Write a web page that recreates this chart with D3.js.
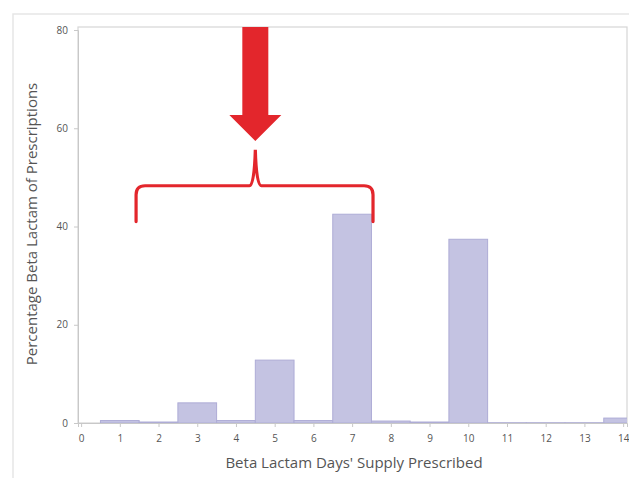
<!DOCTYPE html>
<html><head><meta charset="utf-8">
<script src="https://cdn.jsdelivr.net/npm/d3@7"></script>
<style>body{margin:0;background:#fff}svg{display:block}</style>
</head><body><svg id="c" width="629" height="478"></svg>
<script>
const days = [1,2,3,4,5,6,7,8,9,10,11,12,13,14];
const percents = [0.5,0.2,4.1,0.5,12.8,0.5,42.5,0.4,0.2,37.4,0.05,0.05,0.05,1.0];
const xTicks = [0,1,2,3,4,5,6,7,8,9,10,11,12,13,14];
const yTicks = [0,20,40,60,80];
const braceRange = [1.42, 7.54];
const arrowAt = 4.5;

const svg = d3.select("#c");
const W=629,H=478;
const L=78,R=627,T=27,B=423;
const x = d3.scaleLinear().domain([-0.08,14.1]).range([L,R]);
const y = d3.scaleLinear().domain([0,80]).range([B,30]);
const font = "'Open Sans', 'DejaVu Sans', sans-serif";

// outer frame
svg.append("path").attr("d",`M13,${H} V14 H${W}`).attr("fill","none").attr("stroke","#e6e6e6").attr("stroke-width",1.5);

svg.append("defs").append("clipPath").attr("id","pc").append("rect")
  .attr("x",L).attr("y",T).attr("width",R-L).attr("height",B-T+1);

// plot frame
svg.append("rect").attr("x",L).attr("y",T).attr("width",R-L).attr("height",B-T)
  .attr("fill","#fff").attr("stroke","#d6d6d6").attr("stroke-width",1.2);

// bars
svg.append("g").attr("clip-path","url(#pc)").selectAll("rect").data(days).join("rect")
  .attr("x",(d)=>x(d-0.5)).attr("width",(d)=>x(d+0.5)-x(d-0.5))
  .attr("y",(d,i)=>y(percents[i])).attr("height",(d,i)=>y(0)-y(percents[i]))
  .attr("fill","#c4c3e2").attr("stroke","#aeacd6").attr("stroke-width",1);

// axes
const xa = svg.append("g").attr("transform",`translate(0,${B})`)
  .call(d3.axisBottom(x).tickValues(xTicks).tickSize(4).tickPadding(8).tickFormat(d3.format("d")));
const ya = svg.append("g").attr("transform",`translate(${L},0)`)
  .call(d3.axisLeft(y).tickValues(yTicks).tickSize(4).tickPadding(6));
[xa,ya].forEach(a=>{
  a.select(".domain").attr("stroke","#c8c8c8");
  a.selectAll(".tick line").attr("stroke","#c8c8c8");
  a.selectAll(".tick text").attr("fill","#555").style("font-family",font).style("font-size","10px");
});

// titles
svg.append("text").attr("x",354).attr("y",468).attr("text-anchor","middle")
  .attr("fill","#555").style("font-family",font).style("font-size","15px")
  .text("Beta Lactam Days' Supply Prescribed");
svg.append("text").attr("transform",`translate(37,224) rotate(-90)`).attr("text-anchor","middle")
  .attr("fill","#555").style("font-family",font).style("font-size","15px")
  .text("Percentage Beta Lactam of Prescriptions");

// annotation: brace
const red = "#e3262c";
const bx0=x(braceRange[0]), bx1=x(braceRange[1]), bm=x(arrowAt);
const yEnd=y(41), yMid=y(48.3), yTip=y(55.6);
const r=9;
const bp = `M${bx0},${yEnd} L${bx0},${yMid+r} Q${bx0},${yMid} ${bx0+r},${yMid} L${bm-6},${yMid} Q${bm-1},${yMid} ${bm},${yTip} Q${bm+1},${yMid} ${bm+6},${yMid} L${bx1-r},${yMid} Q${bx1},${yMid} ${bx1},${yMid+r} L${bx1},${yEnd}`;
svg.append("path").attr("d",bp).attr("fill","none").attr("stroke",red).attr("stroke-width",3.2).attr("stroke-linecap","round");

// annotation: arrow
const ax=x(arrowAt), sw=13, hw=26;
const aTip=y(57.4), aHead=y(62.7);
const ap = `M${ax-sw},${T} L${ax+sw},${T} L${ax+sw},${aHead} L${ax+hw},${aHead} L${ax},${aTip} L${ax-hw},${aHead} L${ax-sw},${aHead} Z`;
svg.append("path").attr("d",ap).attr("fill",red);
</script></body></html>
